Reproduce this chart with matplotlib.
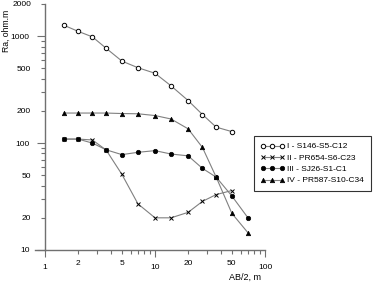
import numpy as np
import matplotlib.pyplot as plt
from matplotlib import ticker

plt.rcParams['font.family'] = ['Liberation Sans', 'DejaVu Sans']

# AB/2 spacings (m)
ab2 = [1.5, 2, 2.7, 3.6, 5, 7, 10, 14, 20, 27, 36, 50, 70]

# apparent resistivity (ohm.m) for the four soundings
ra_1 = [1260, 1110, 985, 770, 585, 507, 450, 343, 250, 185, 141, 128]
ra_2 = [109, 109, 107, 86, 51, 27, 20, 20, 22.5, 28.5, 33, 36]
ra_3 = [109, 109, 100, 86.5, 78, 82, 85, 79, 76, 58, 48, 32, 20]
ra_4 = [191, 191, 191, 191, 189, 188, 181, 168, 136, 91, 48, 22, 14.5]

labels = ["I - S146-S5-C12", "II - PR654-S6-C23",
          "III - SJ26-S1-C1", "IV - PR587-S10-C34"]

fig = plt.figure(figsize=(3.74, 2.82), dpi=100)
ax = fig.add_axes([45/374, 32/282, 220/374, 246/282])

line_col = '#808080'
ax.plot(ab2[:len(ra_1)], ra_1, '-o', color=line_col, lw=0.8, ms=3.2,
        mfc='white', mec='black', mew=0.7, label=labels[0])
ax.plot(ab2[:len(ra_2)], ra_2, '-x', color=line_col, lw=0.8, ms=3.5,
        mec='black', mew=0.7, label=labels[1])
ax.plot(ab2[:len(ra_3)], ra_3, '-o', color=line_col, lw=0.8, ms=3.2,
        mfc='black', mec='black', mew=0.5, label=labels[2])
ax.plot(ab2[:len(ra_4)], ra_4, '-^', color=line_col, lw=0.8, ms=3.2,
        mfc='black', mec='black', mew=0.5, label=labels[3])

ax.set_xscale('log')
ax.set_yscale('log')
ax.set_xlim(1, 100)
ax.set_ylim(10, 2000)

for s in ['top', 'right']:
    ax.spines[s].set_visible(False)
for s in ['left', 'bottom']:
    ax.spines[s].set_color('#707070')
    ax.spines[s].set_linewidth(1.0)

# y ticks
ax.yaxis.set_major_locator(ticker.FixedLocator([10, 100, 1000]))
ax.yaxis.set_major_formatter(ticker.FixedFormatter(['10', '100', '1000']))
y_minor = [20, 30, 40, 50, 60, 70, 80, 90, 200, 300, 400, 500, 600, 700, 800, 900, 2000]
y_minor_lab = {20: '20', 50: '50', 200: '200', 500: '500', 2000: '2000'}
ax.yaxis.set_minor_locator(ticker.FixedLocator(y_minor))
ax.yaxis.set_minor_formatter(ticker.FuncFormatter(lambda v, p: y_minor_lab.get(int(round(v)), '')))
ax.tick_params(axis='y', which='major', length=6, width=0.8, pad=5, labelsize=6, color='#707070')
ax.tick_params(axis='y', which='minor', length=3, width=0.8, pad=7, labelsize=6, color='#707070')

# x ticks
ax.xaxis.set_major_locator(ticker.FixedLocator([1, 10, 100]))
ax.xaxis.set_major_formatter(ticker.FixedFormatter(['1', '10', '100']))
x_minor = [2, 3, 4, 5, 6, 7, 8, 9, 20, 30, 40, 50, 60, 70, 80, 90]
x_minor_lab = {2: '2', 5: '5', 20: '20', 50: '50'}
ax.xaxis.set_minor_locator(ticker.FixedLocator(x_minor))
ax.xaxis.set_minor_formatter(ticker.FuncFormatter(lambda v, p: x_minor_lab.get(int(round(v)), '')))
ax.tick_params(axis='x', which='major', length=5, width=0.8, pad=5, labelsize=6, color='#707070')
ax.tick_params(axis='x', which='minor', length=3, width=0.8, pad=4, labelsize=6, color='#707070')

# small extension of the x axis line to the left of the y axis
ax.plot([-10/220, 0], [0, 0], transform=ax.transAxes, color='#707070',
        lw=1.0, clip_on=False)

fig.text(6/374, 1 - 31/282, "Ra, ohm.m", rotation=90, ha='center', va='center', fontsize=6.2)
fig.text(245/374, 1 - 277/282, "AB/2, m", ha='center', va='center', fontsize=6.5)

leg = fig.legend(loc='upper left', bbox_to_anchor=(254/374, 1 - 136/282),
                 fontsize=6, numpoints=3, handlelength=2.8, handletextpad=0.4,
                 labelspacing=0.42, borderpad=0.8, borderaxespad=0,
                 fancybox=False, frameon=True)
leg.get_frame().set_edgecolor('black')
leg.get_frame().set_linewidth(0.8)

fig.savefig('out.png', dpi=100)
